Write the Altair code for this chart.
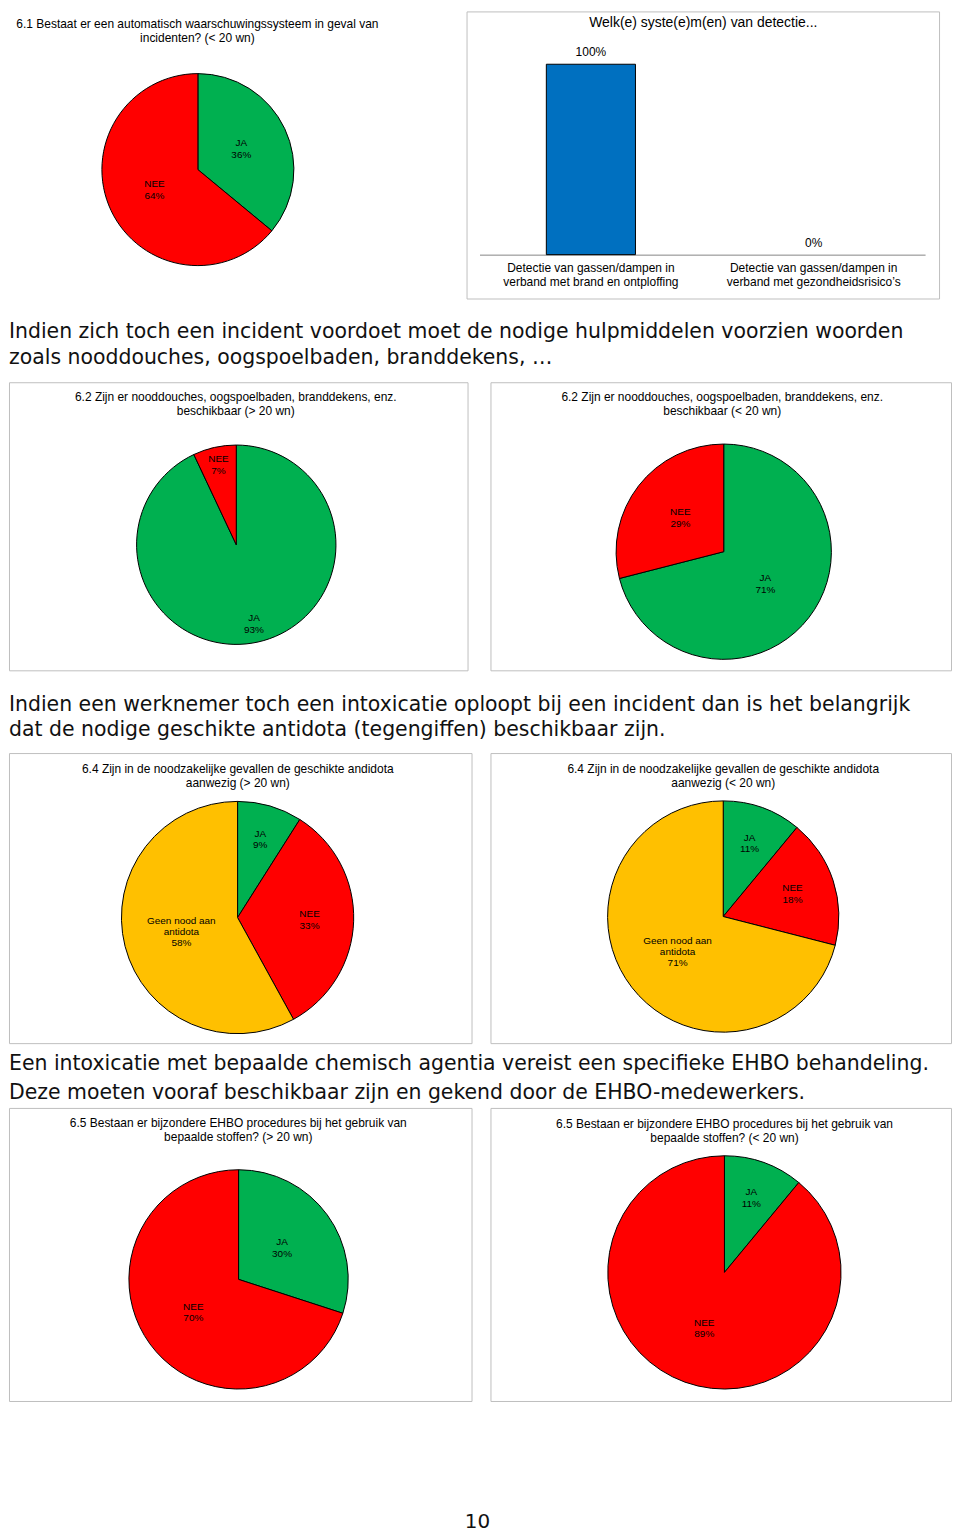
import altair as alt
import pandas as pd

# ------------------------------------------------------------------ data
pie61_cats = ["JA", "NEE"]
pie61_vals = [36, 64]

bar_cats = ["Detectie van gassen/dampen in|verband met brand en ontploffing",
            "Detectie van gassen/dampen in|verband met gezondheidsrisico\u2019s"]
bar_vals = [100, 0]

pie62a_cats = ["JA", "NEE"]
pie62a_vals = [93, 7]
pie62b_cats = ["JA", "NEE"]
pie62b_vals = [71, 29]

pie64a_cats = ["JA", "NEE", "Geen nood aan antidota"]
pie64a_vals = [9, 33, 58]
pie64b_cats = ["JA", "NEE", "Geen nood aan antidota"]
pie64b_vals = [11, 18, 71]

pie65a_cats = ["JA", "NEE"]
pie65a_vals = [30, 70]
pie65b_cats = ["JA", "NEE"]
pie65b_vals = [11, 89]

title61 = "6.1 Bestaat er een automatisch waarschuwingssysteem in geval van\nincidenten? (< 20 wn)"
title_bar = "Welk(e) syste(e)m(en) van detectie..."
title62a = "6.2 Zijn er nooddouches, oogspoelbaden, branddekens, enz.\nbeschikbaar (> 20 wn)"
title62b = "6.2 Zijn er nooddouches, oogspoelbaden, branddekens, enz.\nbeschikbaar (< 20 wn)"
title64a = "6.4 Zijn in de noodzakelijke gevallen de geschikte andidota\naanwezig (> 20 wn)"
title64b = "6.4 Zijn in de noodzakelijke gevallen de geschikte andidota\naanwezig (< 20 wn)"
title65a = "6.5 Bestaan er bijzondere EHBO procedures bij het gebruik van\nbepaalde stoffen? (> 20 wn)"
title65b = "6.5 Bestaan er bijzondere EHBO procedures bij het gebruik van\nbepaalde stoffen? (< 20 wn)"

heading1 = ("Indien zich toch een incident voordoet moet de nodige hulpmiddelen voorzien woorden\n"
            "zoals nooddouches, oogspoelbaden, branddekens, \u2026")
heading2 = ("Indien een werknemer toch een intoxicatie oploopt bij een incident dan is het belangrijk\n"
            "dat de nodige geschikte antidota (tegengiffen) beschikbaar zijn.")
heading3 = ("Een intoxicatie met bepaalde chemisch agentia vereist een specifieke EHBO behandeling.\n"
            "Deze moeten vooraf beschikbaar zijn en gekend door de EHBO-medewerkers.")
page_number = "10"

# ------------------------------------------------------------------ style
FONT = "Liberation Sans"
HFONT = "DejaVu Sans"
HSIZE = 20.5
BOX = "#BFBFBF"
CAT_DOMAIN = ["JA", "NEE", "Geen nood aan antidota"]
CAT_COLORS = ["#00B050", "#FF0000", "#FFC000"]
CAT_DISPLAY = {"JA": "JA", "NEE": "NEE", "Geen nood aan antidota": "Geen nood aan\nantidota"}
LAB_LH = 11.5


def title_layer(text, x, y, size=12, lh=14):
    # y is the centre of the first line
    return alt.Chart(pd.DataFrame({"t": [text]})).mark_text(
        font=FONT, fontSize=size, lineBreak="\n", lineHeight=lh, color="black",
        align="center", baseline="middle"
    ).encode(x=alt.value(x), y=alt.value(y), text="t:N")


def pie_panel(cats, vals, title, w, h, cx, cy, r, tx, ty, label_fracs, boxed=True):
    labels = [CAT_DISPLAY[c] + "\n" + f"{v}%" for c, v in zip(cats, vals)]
    df = pd.DataFrame({
        "cat": cats,
        "val": vals,
        "ord": list(range(len(cats))),
        "label": labels,
        "n": [s.count("\n") + 1 for s in labels],
        "lr": [f * r for f in label_fracs],
    })
    theta_scale = alt.Scale(domain=[0, 100])
    arc = alt.Chart(df).mark_arc(radius=r, stroke="black", strokeWidth=1).encode(
        theta=alt.Theta("val:Q", stack=True, scale=theta_scale),
        order=alt.Order("ord:Q"),
        x=alt.value(cx),
        y=alt.value(cy),
        color=alt.Color("cat:N", scale=alt.Scale(domain=CAT_DOMAIN, range=CAT_COLORS), legend=None),
    )
    lab_base = alt.Chart(df).transform_window(
        cum="sum(val)", sort=[alt.SortField("ord")], frame=[None, 0]
    ).transform_calculate(mid="datum.cum - datum.val / 2")
    layers = [arc]
    for n in sorted(set(df["n"])):
        layers.append(
            lab_base.transform_filter(f"datum.n == {n}").mark_text(
                font=FONT, fontSize=10, lineBreak="\n", lineHeight=LAB_LH,
                color="black", baseline="middle", dy=-(n - 1) * LAB_LH / 2
            ).encode(
                theta=alt.Theta("mid:Q", stack=False, scale=theta_scale),
                radius=alt.Radius("lr:Q", scale=None),
                x=alt.value(cx),
                y=alt.value(cy),
                text="label:N",
            )
        )
    layers.append(title_layer(title, tx, ty))
    view = alt.ViewBackground(stroke=BOX if boxed else "transparent", strokeWidth=1)
    return alt.layer(*layers).properties(width=w, height=h, view=view)


def bar_panel(w, h):
    df = pd.DataFrame({"cat": bar_cats, "val": bar_vals,
                       "lbl": [f"{v}%" for v in bar_vals]})
    base = alt.Chart(df).encode(
        x=alt.X("cat:N", sort=None,
                scale=alt.Scale(range=[13, 460], paddingInner=0.6, paddingOuter=0.3),
                axis=alt.Axis(title=None, labelAngle=0, labelExpr="split(datum.label, '|')",
                              ticks=False, domainColor="#868686", domainWidth=1,
                              labelFont=FONT, labelFontSize=12, labelColor="black",
                              labelPadding=8, labelLineHeight=14, labelLimit=0,
                              offset=-44)),
        y=alt.Y("val:Q", scale=alt.Scale(domain=[0, 100], range=[244, 53]), axis=None),
    )
    bars = base.mark_bar(color="#0070C0", stroke="black").encode(
        strokeWidth=alt.condition("datum.val > 0", alt.value(1), alt.value(0)))
    txt = base.mark_text(font=FONT, fontSize=12, color="black", dy=-12,
                         baseline="middle").encode(text="lbl:N")
    ttl = title_layer(title_bar, w / 2 + 0.5, 12, size=14)
    return alt.layer(bars, txt, ttl).properties(
        width=w, height=h, view=alt.ViewBackground(stroke=BOX, strokeWidth=1))


def text_panel(text, w, h, x, y, lh, size=HSIZE, font=HFONT, align="left"):
    return alt.Chart(pd.DataFrame({"t": [text]})).mark_text(
        font=font, fontSize=size, lineBreak="\n", lineHeight=lh, color="#111111",
        align=align, baseline="middle"
    ).encode(x=alt.value(x), y=alt.value(y), text="t:N").properties(
        width=w, height=h, view=alt.ViewBackground(stroke="transparent"))


row1 = alt.hconcat(
    pie_panel(pie61_cats, pie61_vals, title61, 457, 288, 189.5, 158.7, 96.3, 189, 12.3,
              [0.50, 0.50], boxed=False),
    bar_panel(474, 288),
    spacing=0)

row2 = alt.hconcat(
    pie_panel(pie62a_cats, pie62a_vals, title62a, 460, 289, 228, 163, 100, 227.5, 15,
              [0.815, 0.82]),
    pie_panel(pie62b_cats, pie62b_vals, title62b, 462, 289, 234, 170, 108, 232.5, 15,
              [0.49, 0.51]),
    spacing=21)

row3 = alt.hconcat(
    pie_panel(pie64a_cats, pie64a_vals, title64a, 464, 291, 229.3, 165, 116.5, 229.5, 16,
              [0.70, 0.62, 0.50]),
    pie_panel(pie64b_cats, pie64b_vals, title64b, 462, 291, 233.5, 164, 116, 233.5, 16,
              [0.67, 0.63, 0.50]),
    spacing=17)

row4 = alt.hconcat(
    pie_panel(pie65a_cats, pie65a_vals, title65a, 464, 294, 230.3, 172, 110, 230, 15,
              [0.49, 0.51]),
    pie_panel(pie65b_cats, pie65b_vals, title65b, 462, 294, 234.7, 165, 117, 234.8, 16,
              [0.68, 0.51]),
    spacing=17)

chart = alt.vconcat(
    row1,
    text_panel(heading1, 943, 80, 0, 32, 26),
    row2,
    text_panel(heading2, 943, 79, 0, 33, 25),
    row3,
    text_panel(heading3, 943, 61, 0, 19, 29),
    row4,
    text_panel(page_number, 943, 129, 470, 119, 22, size=20, font="DejaVu Sans", align="center"),
    spacing=0,
).properties(padding=0, background="white").configure_view(stroke=None)

chart.save("out.html", embed_options={"renderer": "svg", "actions": False})
